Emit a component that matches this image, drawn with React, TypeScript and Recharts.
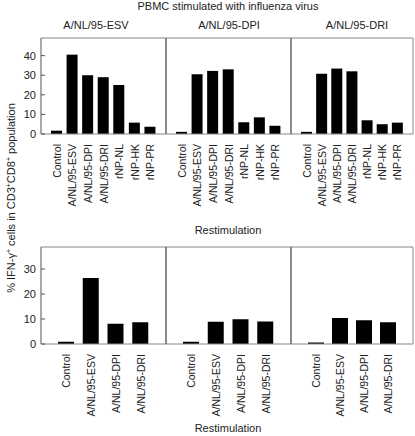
import React from "react";
import { BarChart, Bar, XAxis, YAxis } from "recharts";

// categories and read-off values (% IFN-γ+ of CD3+CD8+)
const topCategories = ["Control", "A/NL/95-ESV", "A/NL/95-DPI", "A/NL/95-DRI", "rNP-NL", "rNP-HK", "rNP-PR"];
const bottomCategories = ["Control", "A/NL/95-ESV", "A/NL/95-DPI", "A/NL/95-DRI"];
const panelTitles = ["A/NL/95-ESV", "A/NL/95-DPI", "A/NL/95-DRI"];

const topEsv = [1.7, 40.5, 30, 29, 25, 5.8, 3.7];
const topDpi = [1.1, 30.5, 32.2, 33, 6, 8.5, 4.2];
const topDri = [1.1, 30.7, 33.4, 32, 7, 5, 5.8];

const bottomEsv = [0.9, 26.4, 8.1, 8.7];
const bottomDpi = [0.9, 8.9, 9.9, 9];
const bottomDri = [0.6, 10.4, 9.5, 8.7];

const topTicks = [0, 10, 20, 30, 40];
const bottomTicks = [0, 10, 20, 30];

const FONT = "'Liberation Sans', Arial, sans-serif";
const FRAME = "#888";
const TEXT = "#222";

const panelLefts = [41, 166, 291];
const panelWidths = [125, 125, 122];

const RotatedTick = (props: any) => {
  const { x, y, payload } = props;
  return (
    <text
      x={x + 4}
      y={y + 8}
      transform={`rotate(-90, ${x + 4}, ${y + 8})`}
      textAnchor="end"
      fontSize={10.5}
      fontFamily={FONT}
      fill={TEXT}
    >
      {payload.value}
    </text>
  );
};

interface PanelProps {
  categories: string[];
  values: number[];
  left: number;
  top: number;
  width: number;
  height: number;
  maxY: number;
  ticks: number[];
  showLabels: boolean;
  barSize: number;
  pad: number;
}

const Panel = ({ categories, values, left, top, width, height, maxY, ticks, showLabels, barSize, pad }: PanelProps) => {
  const data = categories.map((name, i) => ({ name, value: values[i] }));
  const yw = showLabels ? 41 : 1;
  const xh = 85;
  return (
    <div style={{ position: "absolute", left: left - yw, top: top - 2 }}>
      <BarChart
        width={yw + width + 2}
        height={2 + height + xh}
        data={data}
        margin={{ top: 1, right: 1, left: 0, bottom: 0 }}
      >
        <XAxis
          dataKey="name"
          interval={0}
          height={xh}
          tickLine={false}
          tickSize={0}
          tick={<RotatedTick />}
          padding={{ left: pad, right: pad }}
          axisLine={{ stroke: FRAME }}
        />
        {/* top and right edges of the panel frame */}
        <XAxis xAxisId="top" dataKey="name" orientation="top" height={1} tick={false} tickLine={false} axisLine={{ stroke: FRAME }} />
        <YAxis yAxisId="right" orientation="right" width={1} domain={[0, 1]} tick={false} tickLine={false} axisLine={{ stroke: FRAME }} />
        <YAxis
          domain={[0, maxY]}
          ticks={ticks}
          width={yw}
          tickSize={-4}
          tickMargin={9}
          tick={showLabels ? { fontSize: 11, fontFamily: FONT, fill: TEXT } : false}
          tickLine={{ stroke: "#555" }}
          axisLine={{ stroke: "#555" }}
          allowDataOverflow
        />
        <Bar dataKey="value" fill="#000" barSize={barSize} isAnimationActive={false} />
      </BarChart>
    </div>
  );
};

const label = (text: string, x: number, y: number, size = 11) => (
  <div
    style={{
      position: "absolute",
      left: x,
      top: y,
      transform: "translate(-50%, -50%)",
      whiteSpace: "nowrap",
      fontSize: size,
      fontFamily: FONT,
      color: TEXT,
    }}
  >
    {text}
  </div>
);

export default function App() {
  const topSeries = [topEsv, topDpi, topDri];
  const bottomSeries = [bottomEsv, bottomDpi, bottomDri];
  const supStyle = { fontSize: 7, verticalAlign: "4px" };
  return (
    <div style={{ position: "absolute", left: 0, top: 0, width: 415, height: 436, background: "#fff", overflow: "hidden" }}>
      {label("PBMC stimulated with influenza virus", 228, 6)}
      {panelTitles.map((t, i) => (
        <React.Fragment key={t}>{label(t, [96, 229, 357][i], 25)}</React.Fragment>
      ))}

      {topSeries.map((vals, i) => (
        <Panel
          key={"t" + i}
          categories={topCategories}
          values={vals}
          left={panelLefts[i]}
          top={38}
          width={panelWidths[i]}
          height={96}
          maxY={49}
          ticks={topTicks}
          showLabels={i === 0}
          barSize={11}
          pad={8}
        />
      ))}

      {bottomSeries.map((vals, i) => (
        <Panel
          key={"b" + i}
          categories={bottomCategories}
          values={vals}
          left={panelLefts[i]}
          top={247}
          width={panelWidths[i]}
          height={97}
          maxY={38.8}
          ticks={bottomTicks}
          showLabels={i === 0}
          barSize={16}
          pad={13}
        />
      ))}

      {label("Restimulation", 228, 230)}
      {label("Restimulation", 228, 428)}

      <div
        style={{
          position: "absolute",
          left: 10,
          top: 198,
          transform: "translate(-50%, -50%) rotate(-90deg)",
          whiteSpace: "nowrap",
          fontSize: 11,
          fontFamily: FONT,
          color: TEXT,
          lineHeight: "12px",
        }}
      >
        % IFN-γ<span style={supStyle}>+</span> cells in CD3<span style={supStyle}>+</span>CD8
        <span style={supStyle}>+</span> population
      </div>
    </div>
  );
}
